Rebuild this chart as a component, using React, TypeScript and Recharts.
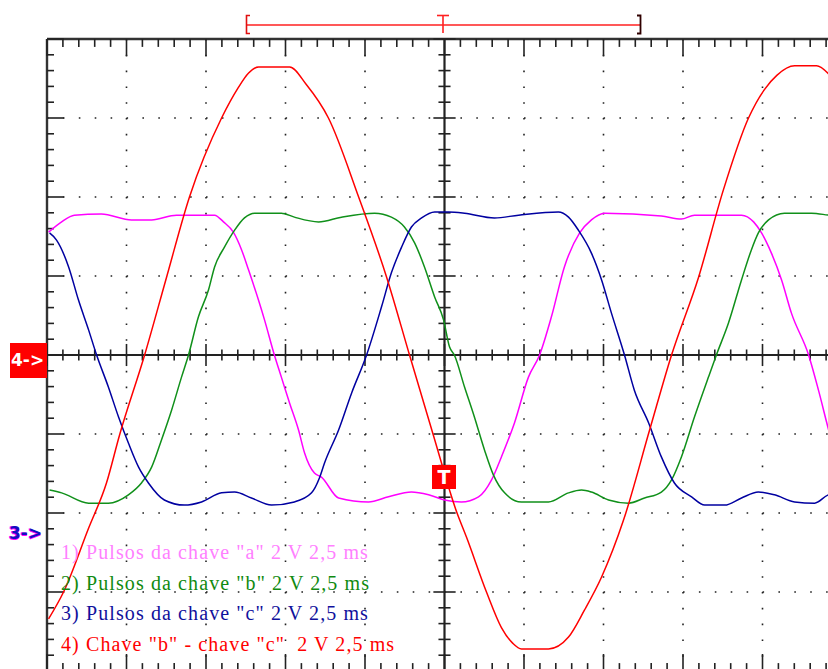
import React from 'react';
import { LineChart, Line, XAxis, YAxis, CartesianGrid, ReferenceLine } from 'recharts';

// time in ms (2,5 ms/div, trigger at 0) ; amplitude in V (2 V/div, screen centre = 0)
const pulsosA: [number, number][] = [
  [-12.45, 3.11], [-12.04, 3.37], [-11.64, 3.54], [-10.79, 3.57], [-9.84, 3.42], [-9.21, 3.42],
  [-8.43, 3.54], [-7.23, 3.54], [-6.95, 3.37], [-6.64, 3.11], [-6.38, 2.66], [-6.16, 2.15],
  [-5.85, 1.39], [-5.66, 0.89], [-5.35, 0], [-5.13, -0.56], [-4.87, -1.22], [-4.59, -1.9],
  [-4.4, -2.48], [-4.09, -2.99], [-3.87, -3.09], [-3.33, -3.62], [-2.39, -3.72], [-1.76, -3.59],
  [-1.04, -3.47], [-0.5, -3.54], [0, -3.67], [0.53, -3.72], [1.07, -3.59], [1.48, -3.16],
  [1.79, -2.58], [2.2, -1.72], [2.64, -0.56], [2.99, 0], [3.36, 0.96], [3.77, 2.23],
  [4.25, 3.09], [4.62, 3.42], [5.03, 3.59], [6.82, 3.52], [7.45, 3.44], [7.86, 3.54],
  [9.34, 3.54], [9.72, 3.37], [9.97, 3.09], [10.28, 2.58], [10.6, 1.9], [10.91, 1.06],
  [11.45, 0], [11.76, -0.89], [12.08, -1.9], [12.5, -3.1],
];

const pulsosB: [number, number][] = [
  [-12.42, -3.42], [-12.04, -3.49], [-11.19, -3.75], [-10.57, -3.75], [-9.94, -3.54], [-9.53, -3.24],
  [-9.21, -2.84], [-8.9, -2.15], [-8.58, -1.39], [-8.27, -0.56], [-8.05, 0], [-7.74, 0.96],
  [-7.42, 1.65], [-7.23, 2.23], [-6.92, 2.73], [-6.6, 3.16], [-6.29, 3.47], [-5.97, 3.59],
  [-5.13, 3.59], [-4.72, 3.49], [-3.96, 3.37], [-3.24, 3.49], [-2.2, 3.59], [-1.67, 3.49],
  [-1.26, 3.24], [-0.94, 2.84], [-0.63, 2.23], [-0.31, 1.47], [-0.03, 0.89], [0.16, 0.2],
  [0.31, 0], [0.63, -0.81], [0.94, -1.57], [1.26, -2.41], [1.54, -3.04], [1.89, -3.49],
  [2.42, -3.72], [3.27, -3.72], [3.9, -3.49], [4.31, -3.42], [4.62, -3.47], [5.16, -3.67],
  [5.79, -3.75], [6.29, -3.62], [6.82, -3.47], [7.14, -3.16], [7.45, -2.58], [7.86, -1.57],
  [8.3, -0.56], [8.55, 0], [8.93, 0.81], [9.34, 1.9], [9.65, 2.66], [9.87, 3.09],
  [10.19, 3.42], [10.69, 3.59], [11.54, 3.59], [12.08, 3.54], [12.5, 3.5],
];

const pulsosC: [number, number][] = [
  [-12.42, 3.09], [-12.2, 2.91], [-11.82, 2.23], [-11.51, 1.39], [-11.19, 0.63], [-10.94, 0],
  [-10.57, -0.81], [-10.25, -1.57], [-9.94, -2.23], [-9.62, -2.84], [-9.31, -3.24], [-8.81, -3.67],
  [-8.18, -3.8], [-7.64, -3.72], [-7.01, -3.49], [-6.6, -3.47], [-6.07, -3.62], [-5.44, -3.8],
  [-4.72, -3.72], [-4.18, -3.49], [-3.93, -3.11], [-3.77, -2.73], [-3.33, -1.9], [-2.92, -0.96],
  [-2.45, 0], [-1.98, 1.22], [-1.67, 2.08], [-1.35, 2.73], [-1.04, 3.24], [-0.72, 3.47],
  [-0.31, 3.62], [0.13, 3.62], [0.63, 3.59], [1.57, 3.47], [2.33, 3.54], [3.58, 3.62],
  [3.9, 3.49], [4.21, 3.16], [4.62, 2.58], [4.94, 1.9], [5.25, 1.06], [5.66, 0],
  [5.97, -0.89], [6.42, -1.72], [6.82, -2.58], [7.23, -3.24], [7.77, -3.59], [8.18, -3.8],
  [8.81, -3.8], [9.34, -3.62], [9.87, -3.47], [10.38, -3.54], [11.01, -3.72], [11.64, -3.75],
  [12.08, -3.54], [12.5, -3.5],
];

const chaveBmenosC: [number, number][] = [
  [-12.45, -6.68], [-11.98, -6.0], [-11.19, -4.38], [-10.63, -3.24], [-10.22, -2.03], [-9.43, 0],
  [-8.74, 1.97], [-8.02, 4.0], [-7.01, 6.0], [-6.5, 6.75], [-6.16, 7.14], [-5.85, 7.29], [-4.87, 7.29],
  [-4.34, 6.84], [-3.65, 6.0], [-2.7, 4.0], [-1.82, 1.97], [-1.1, 0], [-0.35, -2.03],
  [0.38, -3.97], [0.69, -4.61], [1.32, -6.0], [1.79, -6.9], [2.15, -7.3], [2.42, -7.44],
  [3.27, -7.44], [3.9, -7.14], [4.4, -6.46], [4.94, -5.62], [5.63, -4.18], [6.45, -1.9],
  [7.14, 0], [7.99, 1.97], [8.77, 4.18], [9.56, 6.0], [10.06, 6.72], [10.45, 7.08],
  [11.01, 7.32], [11.7, 7.32], [12.11, 7.09], [12.5, 6.7],
];

const channels = [
  { name: 'ch1', points: pulsosA, color: '#ff00ff' },
  { name: 'ch2', points: pulsosB, color: '#10901a' },
  { name: 'ch3', points: pulsosC, color: '#0000a0' },
  { name: 'ch4', points: chaveBmenosC, color: '#ff0000' },
];

const legendLines = [
  { text: '1) Pulsos da chave "a" 2 V 2,5 ms', color: '#ff80ff' },
  { text: '2) Pulsos da chave "b" 2 V 2,5 ms', color: '#108a10' },
  { text: '3) Pulsos da chave "c" 2 V 2,5 ms', color: '#10109c' },
  { text: '4) Chave "b" - chave "c"  2 V 2,5 ms', color: '#ff0000' },
];

const gridTimes = [-10, -7.5, -5, -2.5, 2.5, 5, 7.5, 10];
const gridVolts = [-6, -4, -2, 2, 4, 6];

const T_MIN = -12.5;
const T_MAX = 12.5;
const V_MIN = -8;
const V_MAX = 8;

// minor ticks: 5 per division
const tickTimes = Array.from({ length: 51 }, (_, i) => ({ t: T_MIN + i * 0.5, major: i % 5 === 0 }));
const tickVolts = Array.from({ length: 41 }, (_, i) => ({ v: V_MIN + i * 0.4, major: i % 5 === 0 }));

const TICK = '#222';

export default function App() {
  const tickLines: React.ReactNode[] = [];
  tickTimes.forEach(({ t, major }, i) => {
    // top edge
    tickLines.push(
      <ReferenceLine key={`tt${i}`} segment={[{ x: t, y: V_MAX }, { x: t, y: V_MAX - (major ? 0.43 : 0.2) }]} stroke={TICK} strokeWidth={1.6} />
    );
    // bottom edge
    tickLines.push(
      <ReferenceLine key={`tb${i}`} segment={[{ x: t, y: V_MIN }, { x: t, y: V_MIN + (major ? 0.43 : 0.2) }]} stroke={TICK} strokeWidth={1.6} />
    );
    // centre horizontal axis
    const h = major ? 0.28 : 0.14;
    tickLines.push(
      <ReferenceLine key={`tc${i}`} segment={[{ x: t, y: -h }, { x: t, y: h }]} stroke={TICK} strokeWidth={1.6} />
    );
  });
  tickVolts.forEach(({ v, major }, i) => {
    tickLines.push(
      <ReferenceLine key={`vl${i}`} segment={[{ x: T_MIN, y: v }, { x: T_MIN + (major ? 0.53 : 0.22), y: v }]} stroke={TICK} strokeWidth={1.6} />
    );
    const w = major ? 0.35 : 0.19;
    tickLines.push(
      <ReferenceLine key={`vc${i}`} segment={[{ x: -w, y: v }, { x: w, y: v }]} stroke={TICK} strokeWidth={1.6} />
    );
  });

  return (
    <div
      style={{
        position: 'fixed',
        left: 0,
        top: 0,
        width: 828,
        height: 669,
        overflow: 'hidden',
        background: '#fff',
      }}
    >
      <div style={{ position: 'absolute', left: 0, top: 0 }}>
        <LineChart width={850} height={680} margin={{ top: 39, left: 47, right: 8, bottom: 9 }}>
          <XAxis type="number" dataKey="t" domain={[T_MIN, T_MAX]} ticks={gridTimes} allowDataOverflow hide />
          <YAxis type="number" dataKey="v" domain={[V_MIN, V_MAX]} ticks={gridVolts} allowDataOverflow hide />
          <CartesianGrid horizontal vertical={false} stroke="#222" strokeWidth={1.6} strokeDasharray="1.6 14.3" />
          <CartesianGrid horizontal={false} vertical stroke="#222" strokeWidth={1.6} strokeDasharray="1.6 14.2" />
          <ReferenceLine y={V_MAX} stroke="#333" strokeWidth={2.4} />
          <ReferenceLine x={T_MIN} stroke="#333" strokeWidth={2.4} />
          <ReferenceLine y={V_MIN} stroke="#333" strokeWidth={2.4} />
          <ReferenceLine y={0} stroke="#222" strokeWidth={2.2} />
          <ReferenceLine x={0} stroke="#222" strokeWidth={2.2} />
          {tickLines}
          {channels.map((c) => (
            <Line
              key={c.name}
              data={c.points.map(([t, v]) => ({ t, v }))}
              dataKey="v"
              type="monotone"
              stroke={c.color}
              strokeWidth={1.5}
              dot={false}
              isAnimationActive={false}
            />
          ))}
        </LineChart>
      </div>

      {/* trigger position bar above the screen */}
      <svg style={{ position: 'absolute', left: 0, top: 0 }} width={828} height={40}>
        <line x1={247} y1={25} x2={640} y2={25} stroke="#ff2020" strokeWidth={1.6} />
        <line x1={443} y1={15} x2={443} y2={33} stroke="#ff2020" strokeWidth={1.6} />
        <line x1={437} y1={15.5} x2={449} y2={15.5} stroke="#ff2020" strokeWidth={1.6} />
        <path d="M250 15.5 H246.5 V33.5 H250" fill="none" stroke="#e01010" strokeWidth={1.6} />
        <path d="M637 15.5 H640.5 V33.5 H637" fill="none" stroke="#300000" strokeWidth={1.8} />
      </svg>

      {/* channel 4 ground marker */}
      <div
        style={{
          position: 'absolute',
          left: 10,
          top: 343,
          width: 37,
          height: 35,
          background: '#ff0000',
          color: '#fff',
          fontFamily: '"DejaVu Sans", sans-serif',
          fontWeight: 'bold',
          fontSize: 17,
          lineHeight: '35px',
          textAlign: 'left',
          paddingLeft: 1,
          boxSizing: 'border-box',
        }}
      >
        4-&gt;
      </div>

      {/* channel 1 / 3 ground marker */}
      <div
        style={{
          position: 'absolute',
          left: 9,
          top: 522,
          color: '#1010c0',
          fontFamily: '"DejaVu Sans", sans-serif',
          fontWeight: 'bold',
          fontSize: 17,
          lineHeight: '22px',
          textShadow: '-1px 0 #ff00ff, 0 1px #ff00ff',
        }}
      >
        3-&gt;
      </div>

      {/* trigger level marker */}
      <div
        style={{
          position: 'absolute',
          left: 432,
          top: 465,
          width: 24,
          height: 24,
          background: '#ff0000',
          color: '#fff',
          fontFamily: '"DejaVu Sans", sans-serif',
          fontWeight: 'bold',
          fontSize: 19,
          lineHeight: '24px',
          textAlign: 'center',
        }}
      >
        T
      </div>

      {/* legend */}
      <div style={{ position: 'absolute', left: 61, top: 537 }}>
        {legendLines.map((l) => (
          <div
            key={l.text}
            style={{
              color: l.color,
              fontFamily: '"Liberation Serif", serif',
              fontSize: 20,
              letterSpacing: 1.1,
              lineHeight: '30.5px',
              whiteSpace: 'pre',
            }}
          >
            {l.text}
          </div>
        ))}
      </div>
    </div>
  );
}
